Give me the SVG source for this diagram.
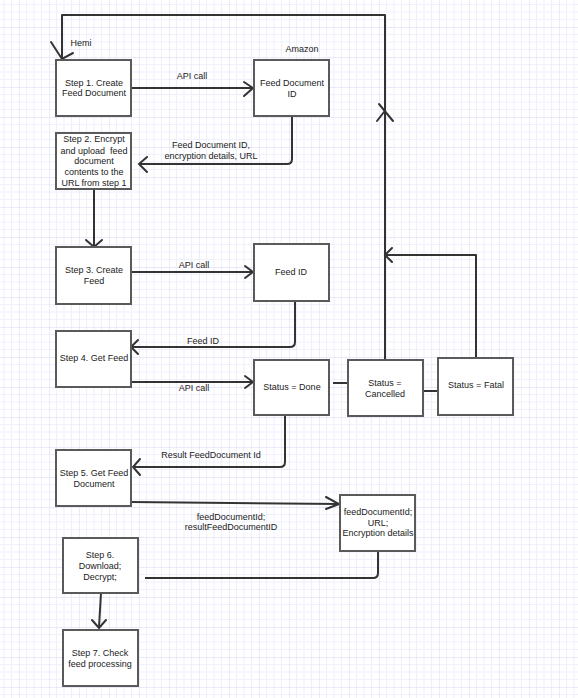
<svg xmlns="http://www.w3.org/2000/svg" width="578" height="698" viewBox="0 0 578 698">
<defs>
<pattern id="grid" width="30" height="30" patternUnits="userSpaceOnUse" x="19" y="27">
<path d="M7.5 0V30M15 0V30M22.5 0V30M0 7.5H30M0 15H30M0 22.5H30" stroke="#f0f0fd" stroke-width="1.2" fill="none"/>
<path d="M0 0V30M0 0H30" stroke="#e2e2f8" stroke-width="1.4" fill="none"/>
</pattern>
<style>
.box{fill:#fff;stroke:#5a5a5a;stroke-width:2}
.t{font-family:"Liberation Sans",Arial,sans-serif;font-size:9px;fill:#222;text-anchor:middle}
.ln{fill:none;stroke:#333;stroke-width:2;stroke-linejoin:round}
.ah{fill:none;stroke:#333;stroke-width:2;stroke-linecap:round}
</style>
</defs>
<rect width="578" height="698" fill="#fff"/>
<rect width="578" height="698" fill="url(#grid)"/>

<text class="t" x="81" y="46">Hemi</text>
<text class="t" x="302" y="52">Amazon</text>

<g id="connectors">
<!-- top loop -->
<path class="ln" d="M385 360V15H62V59"/>
<path class="ah" d="M51 42L62 59L73 53"/>
<path class="ah" d="M379 104L393 121M377 121L384 112"/>
<!-- step1 -> feed doc id -->
<path class="ln" d="M131 88H253"/>
<path class="ah" d="M244 82L253 88L244 96"/>
<text class="t" x="192" y="79">API call</text>
<!-- feed doc id -> step2 -->
<path class="ln" d="M292 116V159Q292 164 287 164H139"/>
<path class="ah" d="M147 157L139 164L147 172"/>
<text class="t" x="211" y="148">Feed Document ID,</text>
<text class="t" x="211" y="159">encryption details, URL</text>
<!-- step2 -> step3 -->
<path class="ln" d="M94 189V246"/>
<path class="ah" d="M86 240L94 247L102 240"/>
<!-- step3 -> feed id -->
<path class="ln" d="M131 272H253"/>
<path class="ah" d="M245 266L253 272L245 278"/>
<text class="t" x="194" y="268">API call</text>
<!-- feed id -> step4 -->
<path class="ln" d="M295 301V342Q295 347 290 347H132"/>
<path class="ah" d="M138 340L131 347L138 354"/>
<text class="t" x="203" y="344">Feed ID</text>
<!-- step4 -> status done -->
<path class="ln" d="M131 382H253"/>
<path class="ah" d="M245 376L253 382L245 388"/>
<text class="t" x="194" y="391">API call</text>
<!-- done - cancelled - fatal -->
<path class="ln" d="M333 383H348"/>
<path class="ln" d="M423 391H438"/>
<!-- fatal up -->
<path class="ln" d="M476 358V255H386"/>
<path class="ah" d="M392 248L385 255L392 262"/>
<!-- done -> step5 -->
<path class="ln" d="M285 415V462Q285 467 280 467H134"/>
<path class="ah" d="M140 459L133 467L140 475"/>
<text class="t" x="211" y="458">Result FeedDocument Id</text>
<!-- step5 -> feedDocumentId box -->
<path class="ln" d="M131 502L339 504"/>
<path class="ah" d="M326 497L339 504L326 509"/>
<text class="t" x="231" y="520">feedDocumentId;</text>
<text class="t" x="231" y="530">resultFeedDocumentID</text>
<!-- box -> step6 -->
<path class="ln" d="M378 551V573Q378 578 373 578H145"/>
<!-- step6 -> step7 -->
<path class="ln" d="M101 593L99 627"/>
<path class="ah" d="M92 620L99 628L106 620"/>
</g>

<g id="step1"><rect class="box" x="56" y="60" width="75" height="56"/>
<text class="t" x="94" y="86">Step 1. Create</text><text class="t" x="94" y="96">Feed Document</text></g>
<g id="feeddocid"><rect class="box" x="254" y="60" width="75" height="56"/>
<text class="t" x="292" y="86">Feed Document</text><text class="t" x="292" y="97">ID</text></g>
<g id="step2"><rect class="box" x="56" y="133" width="75" height="56"/>
<text class="t" x="94" y="142">Step 2. Encrypt</text>
<text class="t" x="94" y="154" style="white-space:pre">and upload  feed</text>
<text class="t" x="94" y="164">document</text>
<text class="t" x="94" y="175">contents to the</text>
<text class="t" x="94" y="186">URL from step 1</text></g>
<g id="step3"><rect class="box" x="56" y="247" width="75" height="57"/>
<text class="t" x="94" y="273">Step 3. Create</text><text class="t" x="94" y="284">Feed</text></g>
<g id="feedid"><rect class="box" x="254" y="244" width="75" height="57"/>
<text class="t" x="291" y="275">Feed ID</text></g>
<g id="step4"><rect class="box" x="56" y="331" width="75" height="56"/>
<text class="t" x="94" y="361">Step 4. Get Feed</text></g>
<g id="done"><rect class="box" x="254" y="360" width="75" height="55"/>
<text class="t" x="292" y="390">Status = Done</text></g>
<g id="cancelled"><rect class="box" x="348" y="360" width="75" height="56"/>
<text class="t" x="385" y="386">Status =</text><text class="t" x="385" y="397">Cancelled</text></g>
<g id="fatal"><rect class="box" x="438" y="358" width="75" height="57"/>
<text class="t" x="476" y="388">Status = Fatal</text></g>
<g id="step5"><rect class="box" x="56" y="450" width="75" height="56"/>
<text class="t" x="94" y="476">Step 5. Get Feed</text><text class="t" x="94" y="487">Document</text></g>
<g id="fdbox"><rect class="box" x="340" y="495" width="75" height="56"/>
<text class="t" x="378" y="515">feedDocumentId;</text><text class="t" x="378" y="526">URL;</text><text class="t" x="378" y="536">Encryption details</text></g>
<g id="step6"><rect class="box" x="63" y="538" width="75" height="55"/>
<text class="t" x="100" y="558">Step 6.</text><text class="t" x="100" y="569">Download;</text><text class="t" x="100" y="580">Decrypt;</text></g>
<g id="step7"><rect class="box" x="63" y="630" width="75" height="56"/>
<text class="t" x="100" y="656">Step 7. Check</text><text class="t" x="100" y="667">feed processing</text></g>
</svg>
